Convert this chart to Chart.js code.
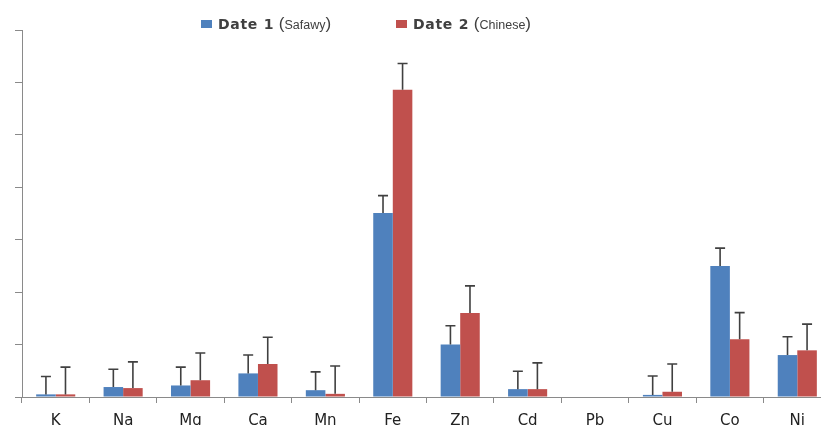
<!DOCTYPE html>
<html>
<head>
<meta charset="utf-8">
<script src="https://cdn.jsdelivr.net/npm/chart.js@4/dist/chart.umd.min.js"></script>
<style>
  html, body { margin: 0; padding: 0; background: #fff; overflow: hidden; width: 821px; height: 425px; }
  #wrap { position: relative; width: 840px; height: 425px; }
  #legend { position: absolute; top: 0; left: 0; width: 821px; height: 40px; font-family: "DejaVu Sans", sans-serif; color: #404040; }
  .item { position: absolute; top: 13px; white-space: nowrap; height: 22px; line-height: 22px; }
  .sw { display: inline-block; width: 11px; height: 8px; vertical-align: middle; margin-right: 6px; position: relative; top: -1px; }
  .main { font-size: 14px; font-weight: bold; letter-spacing: 0.7px; }
  .par { font-family: "Liberation Sans", sans-serif; font-size: 17px; }
  .sub { font-family: "Liberation Sans", sans-serif; font-size: 12.5px; }
</style>
</head>
<body>
<div id="wrap">
  <canvas id="c" width="840" height="425"></canvas>
  <div id="legend">
    <div class="item" style="left:201px"><span class="sw" style="background:#4F81BD"></span><span class="main">Date 1</span><span class="par"> (</span><span class="sub">Safawy</span><span class="par">)</span></div>
    <div class="item" style="left:396px"><span class="sw" style="background:#C0504D"></span><span class="main">Date 2</span><span class="par"> (</span><span class="sub">Chinese</span><span class="par">)</span></div>
  </div>
</div>
<script>
const categories = ["K", "Na", "Mg", "Ca", "Mn", "Fe", "Zn", "Cd", "Pb", "Cu", "Co", "Ni"];
const seriesNames = ["Date 1 (Safawy)", "Date 2 (Chinese)"];
const date1Values = [0.05, 0.19, 0.22, 0.45, 0.13, 3.51, 1.00, 0.15, 0, 0.04, 2.50, 0.80];
const date2Values = [0.05, 0.17, 0.32, 0.63, 0.06, 5.86, 1.60, 0.15, 0, 0.10, 1.10, 0.89];
const date1Errors = [0.34, 0.34, 0.35, 0.35, 0.35, 0.33, 0.36, 0.34, null, 0.36, 0.34, 0.35];
const date2Errors = [0.52, 0.50, 0.52, 0.51, 0.53, 0.50, 0.52, 0.50, null, 0.53, 0.51, 0.50];
const yTicks = [0, 1, 2, 3, 4, 5, 6, 7];

const errorBarPlugin = {
  id: 'errorBars',
  afterDatasetsDraw(chart) {
    const ctx = chart.ctx;
    const yScale = chart.scales.y;
    chart.data.datasets.forEach((ds, di) => {
      const meta = chart.getDatasetMeta(di);
      meta.data.forEach((bar, i) => {
        const e = ds.errors[i];
        if (e == null) return;
        const v = ds.data[i];
        const yTop = yScale.getPixelForValue(v + e);
        const yBase = yScale.getPixelForValue(v);
        ctx.save();
        ctx.strokeStyle = '#404040';
        ctx.lineWidth = 1.6;
        ctx.beginPath();
        ctx.moveTo(bar.x, yBase);
        ctx.lineTo(bar.x, yTop);
        ctx.moveTo(bar.x - 5, yTop);
        ctx.lineTo(bar.x + 5, yTop);
        ctx.stroke();
        ctx.restore();
      });
    });
  }
};

new Chart(document.getElementById('c'), {
  type: 'bar',
  data: {
    labels: categories,
    datasets: [
      { label: seriesNames[0], data: date1Values, errors: date1Errors, backgroundColor: '#4F81BD', barPercentage: 1, categoryPercentage: 0.58 },
      { label: seriesNames[1], data: date2Values, errors: date2Errors, backgroundColor: '#C0504D', barPercentage: 1, categoryPercentage: 0.58 }
    ]
  },
  options: {
    responsive: false,
    animation: false,
    devicePixelRatio: 1,
    layout: { padding: { top: 30, right: 9, left: 0, bottom: 0 } },
    plugins: { legend: { display: false }, tooltip: { enabled: false } },
    scales: {
      x: {
        grid: { display: true, drawOnChartArea: false, drawTicks: true, tickLength: 6, color: '#8a8a8a', offset: true },
        border: { display: true, color: '#8a8a8a', width: 1 },
        ticks: { color: '#222', font: { family: 'DejaVu Sans', size: 15 }, padding: 9, maxRotation: 0 },
        afterFit: s => { s.height = 28; }
      },
      y: {
        min: 0, max: 7,
        afterBuildTicks: s => { s.ticks = yTicks.map(v => ({ value: v })); },
        grid: { display: true, drawOnChartArea: false, drawTicks: true, tickLength: 7, color: '#8a8a8a' },
        border: { display: true, color: '#8a8a8a', width: 1 },
        ticks: { display: false },
        afterFit: s => { s.width = 22; }
      }
    }
  },
  plugins: [errorBarPlugin]
});
</script>
</body>
</html>
